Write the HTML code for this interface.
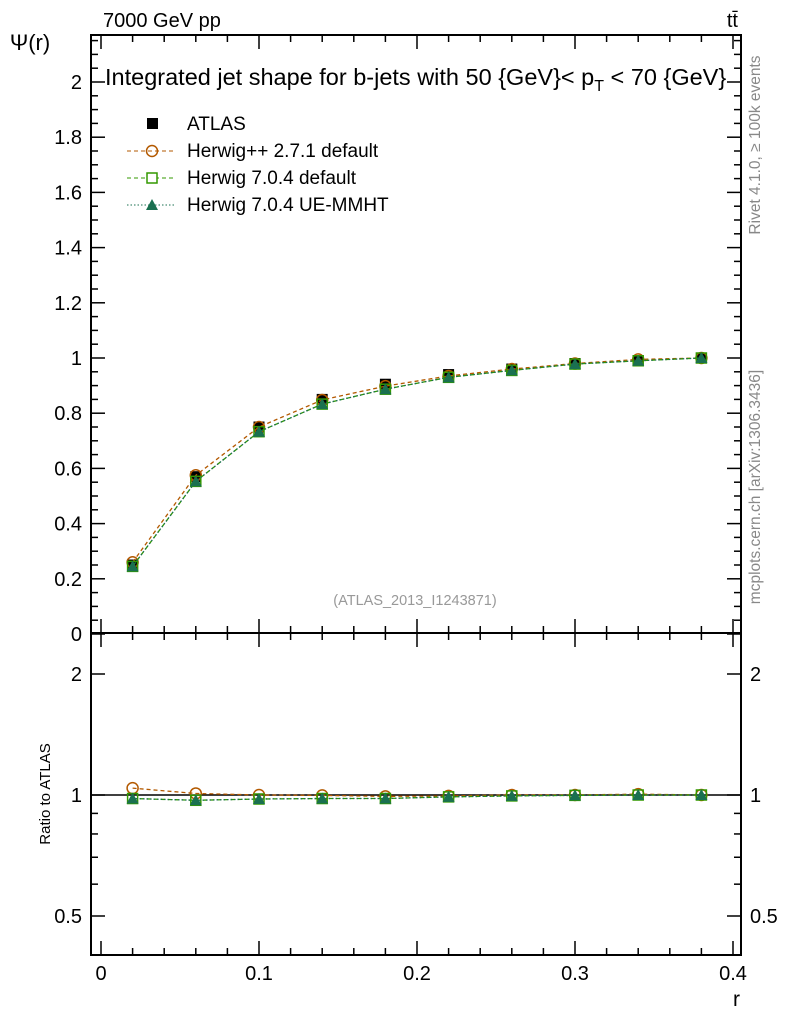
<!DOCTYPE html>
<html><head><meta charset="utf-8"><style>
body{margin:0;background:#fff;width:786px;height:1024px;overflow:hidden}
svg{font-family:"Liberation Sans",sans-serif}
</style></head><body>
<svg id="c" width="786" height="1024">
<rect x="91" y="35" width="650" height="598" fill="none" stroke="#000" stroke-width="2"/>
<rect x="91" y="633" width="650" height="322" fill="none" stroke="#000" stroke-width="2"/>
<text x="103" y="27" font-size="20">7000 GeV pp</text>
<text x="738" y="27" font-size="20" text-anchor="end">tt̄</text>
<text x="105" y="85" font-size="23.5">Integrated jet shape for b-jets with 50 {GeV}&lt; p<tspan font-size="16" dy="6">T</tspan><tspan dy="-6"> &lt; 70 {GeV}</tspan></text>
<text x="30" y="50" font-size="22" text-anchor="middle">Ψ(r)</text>
<text x="50" y="794" font-size="15" text-anchor="middle" transform="rotate(-90 50 794)">Ratio to ATLAS</text>
<text x="740" y="1006" font-size="21" text-anchor="end">r</text>
<text x="760" y="145" font-size="15.5" fill="#888" text-anchor="middle" transform="rotate(-90 760 145)">Rivet 4.1.0, ≥ 100k events</text>
<text x="760" y="487" font-size="15.5" fill="#888" text-anchor="middle" transform="rotate(-90 760 487)">mcplots.cern.ch [arXiv:1306.3436]</text>
<text x="415" y="605" font-size="14.5" fill="#999" text-anchor="middle">(ATLAS_2013_I1243871)</text>
<g id="axes"></g><g id="marks"></g>
<g>
<rect x="147" y="118" width="11" height="11" fill="#000"/>
<text x="187" y="130" font-size="19">ATLAS</text>
<line x1="127" y1="151" x2="176" y2="151" stroke="#b35900" stroke-dasharray="4,3"/>
<circle cx="152" cy="151" r="5.5" fill="none" stroke="#b35900" stroke-width="1.5"/>
<text x="187" y="157" font-size="19">Herwig++ 2.7.1 default</text>
<line x1="127" y1="178" x2="176" y2="178" stroke="#339900" stroke-dasharray="4,3"/>
<rect x="147" y="173" width="10" height="10" fill="#fff" stroke="#339900" stroke-width="1.5"/>
<text x="187" y="184" font-size="19">Herwig 7.0.4 default</text>
<line x1="127" y1="205" x2="176" y2="205" stroke="#1a7050" stroke-dasharray="1.5,2"/>
<path d="M146 210 L152 199 L158 210 Z" fill="#1a7050"/>
<text x="187" y="211" font-size="19">Herwig 7.0.4 UE-MMHT</text>
</g>
</svg>
<script>
const rVals=[0.02,0.06,0.10,0.14,0.18,0.22,0.26,0.30,0.34,0.38];
const atlas=[0.25,0.57,0.75,0.85,0.905,0.94,0.96,0.98,0.99,1.0];
const hpp=[0.26,0.575,0.75,0.848,0.898,0.935,0.96,0.98,0.995,1.0];
const h7=[0.245,0.553,0.733,0.833,0.887,0.930,0.955,0.978,0.990,1.0];
const h7ue=[0.245,0.553,0.733,0.833,0.887,0.930,0.955,0.978,0.990,1.0];
const xTicks=[0,0.1,0.2,0.3,0.4];
const yTicks=[0,0.2,0.4,0.6,0.8,1,1.2,1.4,1.6,1.8,2];
const rTicks=[0.5,1,2];
const NS="http://www.w3.org/2000/svg";
const X=v=>101+v*1580, Y=v=>634-v*276, R=v=>795-Math.log2(v)*121;
const ax=document.getElementById('axes'), mk=document.getElementById('marks');
function el(t,a,p){const e=document.createElementNS(NS,t);for(const k in a)e.setAttribute(k,a[k]);p.appendChild(e);return e;}
for(let v=0;v<=0.4001;v+=0.02){const maj=Math.abs(v*10-Math.round(v*10))<1e-6;const x=X(v);const l=maj?14:7;
 for(const [y0,d] of [[633,-1],[35,1],[955,-1],[633,1]]) el('line',{x1:x,x2:x,y1:y0,y2:y0+d*l,stroke:'#000','stroke-width':1.5},ax);}
xTicks.forEach(v=>{const t=el('text',{x:X(v),y:980,'font-size':20,'text-anchor':'middle'},ax);t.textContent=String(v);

});
for(let v=0;v<=2.16;v+=0.05){const maj=Math.abs(v*5-Math.round(v*5))<1e-6;const y=Y(v);if(y<36)continue;const l=maj?14:7;
 el('line',{x1:91,x2:91+l,y1:y,y2:y,stroke:'#000','stroke-width':1.5},ax);el('line',{x1:741,x2:741-l,y1:y,y2:y,stroke:'#000','stroke-width':1.5},ax);}
yTicks.forEach(v=>{const t=el('text',{x:82,y:Y(v)+7,'font-size':20,'text-anchor':'end'},ax);t.textContent=String(v);

});
[0.4,0.5,0.6,0.7,0.8,0.9,1,2].forEach(v=>{const y=R(v);if(y>954||y<634)return;const maj=rTicks.includes(v);const l=maj?14:7;
 el('line',{x1:91,x2:91+l,y1:y,y2:y,stroke:'#000','stroke-width':1.5},ax);el('line',{x1:741,x2:741-l,y1:y,y2:y,stroke:'#000','stroke-width':1.5},ax);});
rTicks.forEach(v=>{for(const [x,a] of [[82,'end'],[750,'start']]){const t=el('text',{x:x,y:R(v)+7,'font-size':20,'text-anchor':a},ax);t.textContent=String(v);

}});
el('line',{x1:91,x2:741,y1:R(1),y2:R(1),stroke:'#000','stroke-width':1.5},ax);
function line(arr,f,col,dash){el('polyline',{points:rVals.map((r,i)=>X(r)+','+f(arr[i])).join(' '),fill:'none',stroke:col,'stroke-width':1.3,'stroke-dasharray':dash},mk);}
function series(arr,f,kind,col,dash,name){if(kind!=='sq')line(arr,f,col,dash);
 rVals.forEach((r,i)=>{const x=X(r),y=f(arr[i]);let e;
  if(kind==='sq')e=el('rect',{x:x-5.5,y:y-5.5,width:11,height:11,fill:'#000'},mk);
  else if(kind==='c')e=el('circle',{cx:x,cy:y,r:5.5,fill:'none',stroke:col,'stroke-width':1.5},mk);
  else if(kind==='s')e=el('rect',{x:x-5,y:y-5,width:10,height:10,fill:'none',stroke:col,'stroke-width':1.5},mk);
  else e=el('path',{d:`M${x-6} ${y+5} L${x} ${y-6} L${x+6} ${y+5} Z`,fill:col},mk);
  
  });}
series(atlas,Y,'sq','#000','', 'atlas-point');
series(hpp,Y,'c','#b35900','4,3','herwigpp-point');
series(h7,Y,'s','#339900','4,3','herwig7-point');
series(h7ue,Y,'t','#1a7050','1.5,2','herwig7-ue-point');
const rat=a=>a.map((v,i)=>v/atlas[i]);
series(rat(hpp),R,'c','#b35900','4,3','herwigpp-ratio-point');
series(rat(h7),R,'s','#339900','4,3','herwig7-ratio-point');
series(rat(h7ue),R,'t','#1a7050','1.5,2','herwig7-ue-ratio-point');
</script>
</body></html>
